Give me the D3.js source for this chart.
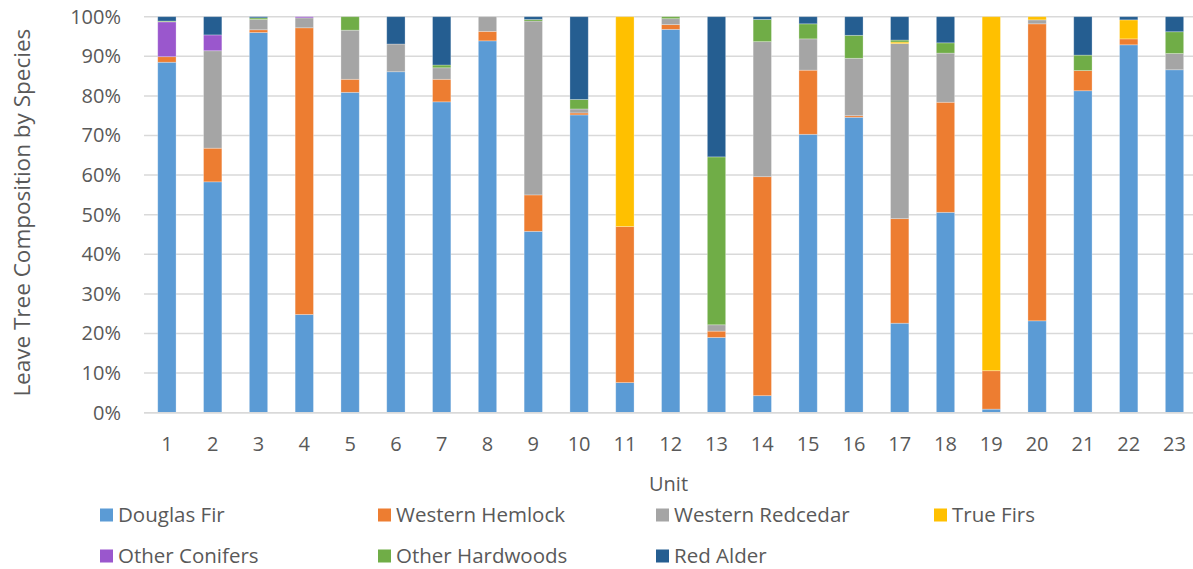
<!DOCTYPE html>
<html>
<head>
<meta charset="utf-8">
<script src="https://cdn.jsdelivr.net/npm/d3@7"></script>
<style>
  html, body { margin: 0; padding: 0; background: #ffffff; }
  svg { display: block; font-family: "Open Sans", "Noto Sans", sans-serif; }
</style>
</head>
<body>
<svg id="chart" width="1193" height="569"></svg>
<script>
// Harvest units along the x axis
const units = ["1","2","3","4","5","6","7","8","9","10","11","12","13","14","15","16","17","18","19","20","21","22","23"];

// Species, stacked bottom to top
const species = ["Douglas Fir","Western Hemlock","Western Redcedar","True Firs","Other Conifers","Other Hardwoods","Red Alder"];
const speciesColors = ["#5B9BD5","#ED7D31","#A5A5A5","#FFC000","#9A57CD","#70AD47","#255E91"];

// Share of leave trees (%) per unit, one array per species
const douglasFir      = [88.5,58.3,96.0,24.8,80.9,86.1,78.5,93.9,45.8,75.2, 7.6,96.8,19.0, 4.3,70.3,74.6,22.6,50.6, 0.9,23.2,81.3,92.9,86.6];
const westernHemlock  = [ 1.4, 8.5, 0.7,72.4, 3.3, 0.0, 5.7, 2.4, 9.2, 0.5,39.4, 1.2, 1.6,55.3,16.2, 0.4,26.4,27.8, 9.7,75.0, 5.1, 1.5, 0.0];
const westernRedcedar = [ 0.0,24.6, 2.6, 2.5,12.4, 7.0, 2.9, 3.7,43.9, 1.0, 0.0, 1.5, 1.6,34.1, 7.9,14.5,44.2,12.4, 0.0, 1.0, 0.0, 0.0, 4.1];
const trueFirs        = [ 0.0, 0.0, 0.0, 0.0, 0.0, 0.0, 0.0, 0.0, 0.0, 0.0,53.0, 0.0, 0.0, 0.0, 0.0, 0.0, 0.4, 0.0,89.4, 0.8, 0.0, 4.8, 0.0];
const otherConifers   = [ 8.8, 4.0, 0.0, 0.3, 0.0, 0.0, 0.0, 0.0, 0.0, 0.0, 0.0, 0.0, 0.0, 0.0, 0.0, 0.0, 0.0, 0.0, 0.0, 0.0, 0.0, 0.0, 0.0];
const otherHardwoods  = [ 0.2, 0.0, 0.4, 0.0, 3.4, 0.0, 0.7, 0.0, 0.4, 2.4, 0.0, 0.5,42.4, 5.6, 3.8, 5.8, 0.5, 2.6, 0.0, 0.0, 3.9, 0.0, 5.5];
const redAlder        = [ 1.1, 4.6, 0.3, 0.0, 0.0, 6.9,12.2, 0.0, 0.7,20.9, 0.0, 0.0,35.4, 0.7, 1.8, 4.7, 5.9, 6.6, 0.0, 0.0, 9.7, 0.8, 3.8];

// Y tick values (proportion of total)
const yTicks = [0,0.1,0.2,0.3,0.4,0.5,0.6,0.7,0.8,0.9,1.0];

const seriesValues = [douglasFir, westernHemlock, westernRedcedar, trueFirs, otherConifers, otherHardwoods, redAlder];

// Build per-unit rows for d3.stack, normalised to 100%
const rows = units.map((u, i) => {
  const row = { unit: u };
  let total = 0;
  species.forEach((s, k) => { total += seriesValues[k][i]; });
  species.forEach((s, k) => { row[s] = seriesValues[k][i] / total; });
  return row;
});

const svg = d3.select("#chart");
const textColor = "#595959";
const gridColor = "#D9D9D9";

const plot = { left: 144, right: 1197.4, top: 16.7, bottom: 412.7 };

const x = d3.scaleBand()
  .domain(units)
  .range([plot.left, plot.right])
  .paddingInner(0.6)
  .paddingOuter(0.3);

const y = d3.scaleLinear()
  .domain([0, 1])
  .range([plot.bottom, plot.top]);

const color = d3.scaleOrdinal().domain(species).range(speciesColors);

// Horizontal gridlines
svg.append("g")
  .selectAll("line")
  .data(yTicks)
  .join("line")
  .attr("x1", plot.left)
  .attr("x2", 1193)
  .attr("y1", d => y(d))
  .attr("y2", d => y(d))
  .attr("stroke", gridColor)
  .attr("stroke-width", 1.5);

// Stacked bars
const stacked = d3.stack().keys(species)(rows);

svg.append("g")
  .selectAll("g")
  .data(stacked)
  .join("g")
  .attr("fill", d => color(d.key))
  .selectAll("rect")
  .data(d => d)
  .join("rect")
  .attr("x", d => x(d.data.unit))
  .attr("width", x.bandwidth())
  .attr("y", d => y(d[1]))
  .attr("height", d => Math.max(0, y(d[0]) - y(d[1])))
  .attr("stroke", "#ffffff")
  .attr("stroke-opacity", 0.35)
  .attr("stroke-width", 0.8);

// Y axis (labels only)
const yAxis = svg.append("g")
  .attr("transform", `translate(${plot.left},0)`)
  .call(d3.axisLeft(y).tickValues(yTicks).tickFormat(d3.format(".0%")).tickSize(0).tickPadding(23));
yAxis.select(".domain").remove();
yAxis.selectAll("text")
  .attr("fill", textColor)
  .style("font-size", "20px")
  .style("font-family", "'Open Sans', 'Noto Sans', sans-serif");

// X axis
const xAxis = svg.append("g")
  .attr("transform", `translate(0,${plot.bottom})`)
  .call(d3.axisBottom(x).tickSize(0).tickPadding(24));
xAxis.select(".domain").remove();
xAxis.selectAll("text")
  .attr("fill", textColor)
  .style("font-size", "20px")
  .style("font-family", "'Open Sans', 'Noto Sans', sans-serif");

// Baseline
svg.append("line")
  .attr("x1", plot.left).attr("x2", 1193)
  .attr("y1", y(0)).attr("y2", y(0))
  .attr("stroke", gridColor)
  .attr("stroke-width", 1.5);

// Axis titles
svg.append("text")
  .attr("x", (plot.left + 1193) / 2)
  .attr("y", 491)
  .attr("text-anchor", "middle")
  .attr("fill", textColor)
  .style("font-size", "20px")
  .text("Unit");

svg.append("text")
  .attr("transform", `translate(30,${(plot.top + plot.bottom) / 2 - 2}) rotate(-90)`)
  .attr("text-anchor", "middle")
  .attr("fill", textColor)
  .style("font-size", "22.5px")
  .text("Leave Tree Composition by Species");

// Legend: four columns, two rows
const legend = svg.append("g")
  .selectAll("g")
  .data(species)
  .join("g")
  .attr("transform", (d, i) => `translate(${100 + (i % 4) * 278},${515 + Math.floor(i / 4) * 41})`);

legend.append("rect")
  .attr("x", 0)
  .attr("y", -6.5)
  .attr("width", 13)
  .attr("height", 13)
  .attr("fill", d => color(d));

legend.append("text")
  .attr("x", 18)
  .attr("y", 0)
  .attr("dy", "0.35em")
  .attr("fill", textColor)
  .style("font-size", "20.5px")
  .text(d => d);
</script>
</body>
</html>
